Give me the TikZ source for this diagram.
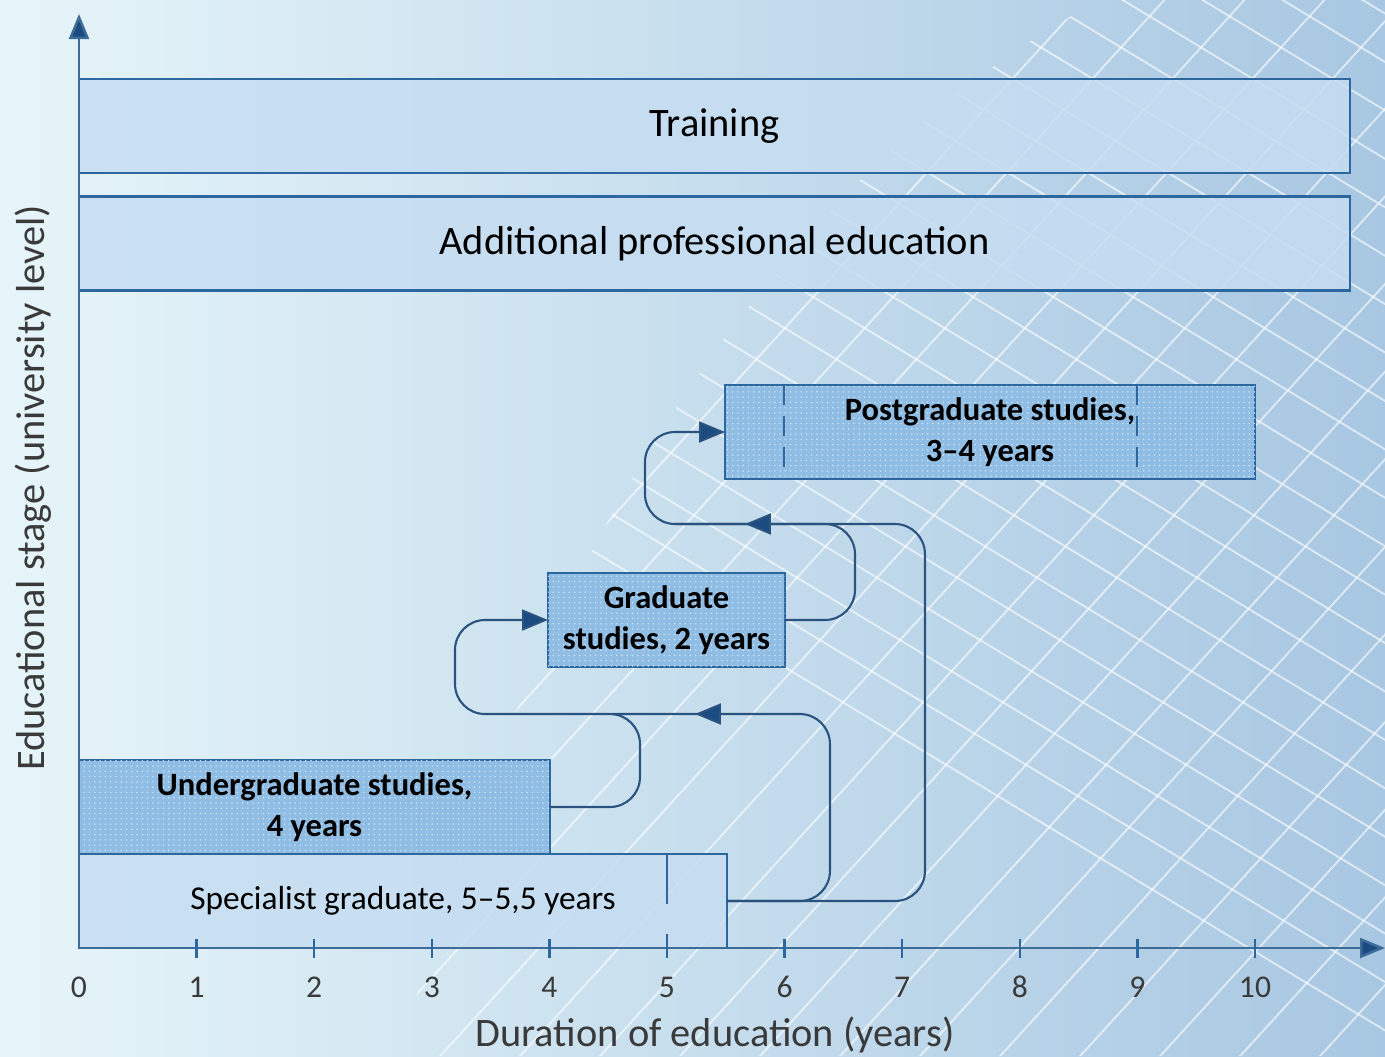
\documentclass[tikz,border=0pt]{standalone}
\usepackage{fontspec}
\setmainfont{Carlito}
\usetikzlibrary{arrows.meta,patterns,decorations.markings}

\definecolor{bgleft}{HTML}{E6F5F9}
\definecolor{bgright}{HTML}{A8C7E2}
\definecolor{boxlight}{HTML}{C6DDF2}
\definecolor{boxdark}{HTML}{8FBDE4}
\definecolor{edgeblue}{HTML}{2C679F}
\definecolor{arrowblue}{HTML}{1B4B80}
\definecolor{tickgray}{HTML}{3A3A3A}

\begin{document}
\begin{tikzpicture}[x=0.02cm,y=-0.02cm,
    flow/.style={draw=arrowblue!85!gray,line width=1.2pt,rounded corners=0.6cm,
      -{Triangle[length=0.52cm,width=0.42cm,fill=arrowblue]}},
    midflow/.style={draw=arrowblue!85!gray,line width=1.2pt,rounded corners=0.6cm,
      postaction={decorate,decoration={markings,
        mark=at position #1 with {\arrow{Triangle[length=0.52cm,width=0.42cm,fill=arrowblue]}}}}},
    axis/.style={draw=edgeblue!80!gray,line width=1.4pt,
      -{Triangle[length=0.5cm,width=0.4cm,fill=arrowblue]}}]
    \tikzset{every node/.style={inner sep=0pt,outer sep=0pt},
      stagebox/.style={draw=edgeblue,line width=1.3pt,fill=boxlight,fill opacity=.85,text opacity=1,
        minimum height=1.88cm,font=\fontsize{23}{27}\selectfont},
      levelbox/.style={draw=edgeblue,line width=1.3pt,fill=boxdark,
        postaction={pattern=dots,pattern color=white!55!boxdark},
        minimum height=1.88cm,align=center,font=\fontsize{18.5}{22}\selectfont\bfseries},
      meshline/.style={white,line width=1.1pt,opacity=.6},
      ticklabel/.style={text=tickgray,font=\fontsize{18}{20}\selectfont}}

    \useasboundingbox (0,0) rectangle (1385,1056);
    \shade[left color=bgleft,right color=bgright] (0,0) rectangle (1385,1056);

    % background mesh
    \begin{scope}
        \clip (400,1056) .. controls (540,520) and (800,160) .. (1100,0) -- (1385,0) -- (1385,1056) -- cycle;
        \foreach \a in {-800,-720,...,1400}
            \draw[meshline] (\a,1100) -- (\a+1050,-50);
        \foreach \a in {-400,-320,...,1400}
            \draw[meshline] (\a,-50) -- (\a+1900,1100);
    \end{scope}

    % stages
    \node[stagebox,minimum width=25.42cm] (train) at (714.5,126) {Training};
    \node[stagebox,minimum width=25.42cm] (addit) at (714.5,243.5) {Additional professional education};
    \node[levelbox,minimum width=10.6cm] (post) at (990,432) {Postgraduate studies,\\[1pt] 3--4 years};
    \node[levelbox,minimum width=4.74cm] (grad) at (666.5,620) {Graduate\\[1pt] studies, 2 years};
    \node[levelbox,minimum width=9.42cm] (under) at (314.5,807) {Undergraduate studies,\\[1pt] 4 years};
    \node[stagebox,minimum width=12.96cm,font=\fontsize{19}{22}\selectfont] (spec) at (403,901) {Specialist graduate, 5--5,5 years};

    \draw[edgeblue,line width=1.3pt,dash pattern=on 0.4cm off 0.22cm] (post.north -| 784,0) -- (post.south -| 784,0);
    \draw[edgeblue,line width=1.3pt,dash pattern=on 0.4cm off 0.22cm] (post.north -| 1137,0) -- (post.south -| 1137,0);
    \draw[edgeblue,line width=1.3pt,dash pattern=on 1cm off 0.6cm] (spec.north -| 667,0) -- (spec.south -| 667,0);

    % transitions
    \coordinate (joinlow) at (612,714);
    \coordinate (joinhigh) at (675,524);
    \draw[flow] (under.east) -- ++(90,0) |- (455,714) |- (grad.west);
    \draw[midflow=-1.66cm] (spec.east) -- ++(103,0) |- (joinlow);
    \draw[flow] (grad.east) -- ++(70,0) |- (645,524) |- (post.west);
    \draw[midflow=-1.4cm] (spec.east) -- ++(198,0) |- (joinhigh);

    % axes
    \coordinate (orig) at (79,948);
    \coordinate (ytop) at (79,14);
    \coordinate (xend) at (1385,948);
    \draw[axis] (orig) -- (ytop);
    \draw[axis] (orig) -- (xend);
    \node[ticklabel] (t0) at (79,987) {0};
    \foreach \k in {1,...,10} {
        \draw[edgeblue,line width=1.3pt] (79+117.6*\k,939) -- ++(0,19);
        \node[ticklabel] (t\k) at (79+117.6*\k,987) {\k};
    }
    \node[text=tickgray,font=\fontsize{23}{27}\selectfont] (xlab) at (715,1035) {Duration of education (years)};
    \node[text=tickgray,font=\fontsize{23}{27}\selectfont,rotate=90] (ylab) at (33,488) {Educational stage (university level)};

\end{tikzpicture}
\end{document}
